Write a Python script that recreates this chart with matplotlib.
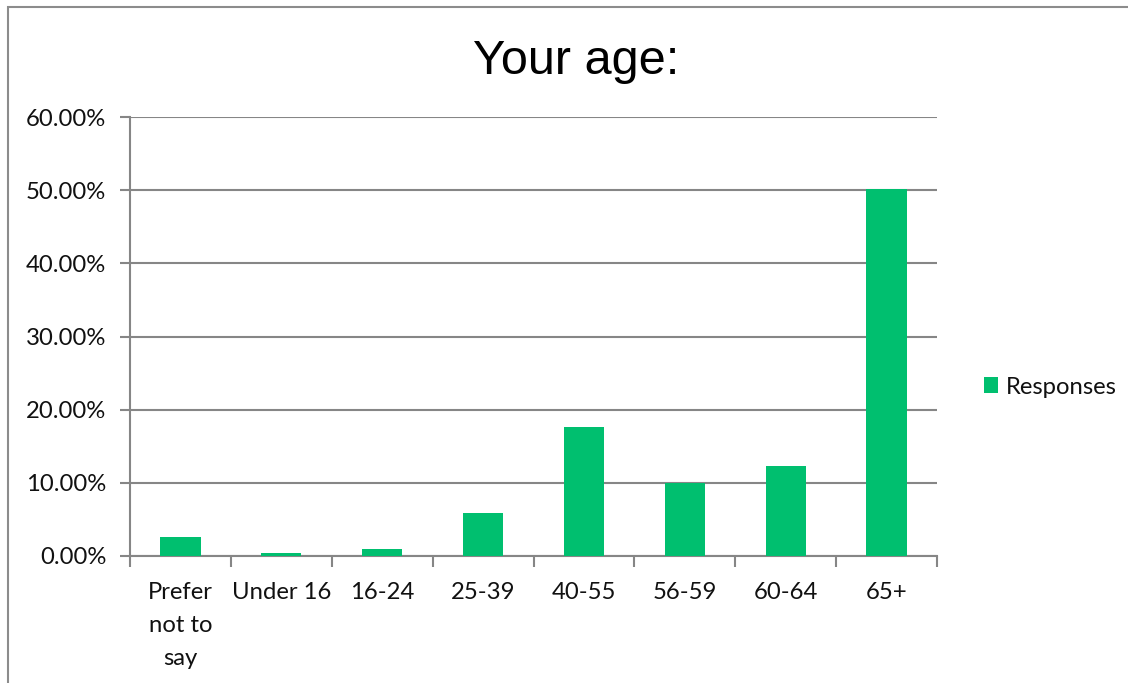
import matplotlib
matplotlib.use("Agg")
import matplotlib.pyplot as plt
from matplotlib.patches import Rectangle, Patch
from matplotlib.ticker import FuncFormatter, FixedLocator

categories = ["Prefer\nnot to\nsay", "Under 16", "16-24", "25-39", "40-55", "56-59", "60-64", "65+"]
values = [2.6, 0.4, 1.0, 5.9, 17.6, 10.0, 12.3, 50.1]
yticks = [0, 10, 20, 30, 40, 50, 60]
series_name = "Responses"
title = "Your age:"

W, H = 1128, 683
fig = plt.figure(figsize=(W / 100, H / 100), dpi=100)
fig.patch.set_facecolor("white")

# outer frame (cropped chart border)
fig.add_artist(Rectangle((8 / W, -0.1), 1.2, 1 - 7 / H + 0.1, transform=fig.transFigure,
                         fill=False, edgecolor="#8c8c8c", linewidth=1.5))

ax = fig.add_axes([130 / W, 1 - 556 / H, (937 - 130) / W, (556 - 117) / H])
x = list(range(len(categories)))
ax.bar(x, values, width=0.4, color="#00BF6F", zorder=3, label=series_name)
ax.set_xlim(-0.5, len(categories) - 0.5)
ax.set_ylim(0, 60)
ax.yaxis.set_major_locator(FixedLocator(yticks))
ax.yaxis.set_major_formatter(FuncFormatter(lambda v, p: f"{v:.2f}%"))
ax.grid(axis="y", color="#868686", linewidth=1.5, zorder=0)
ax.set_axisbelow(True)

for s in ["top", "right"]:
    ax.spines[s].set_visible(False)
for s in ["left", "bottom"]:
    ax.spines[s].set_color("#868686")
    ax.spines[s].set_linewidth(1.5)

FS = 17.2
ax.set_xticks([i + 0.5 for i in range(-1, len(categories))], minor=False)
ax.set_xticklabels([])
ax.set_xticks(x, minor=True)
ax.set_xticklabels(categories, minor=True, fontfamily="Lato", fontsize=FS,
                   linespacing=1.7, color="#111111")
ax.tick_params(axis="x", which="major", length=8, width=1.5, color="#868686", direction="out")
ax.tick_params(axis="x", which="minor", length=0, pad=19)
ax.tick_params(axis="y", length=7, width=1.5, color="#868686", pad=10, labelsize=FS)
for lbl in ax.get_yticklabels():
    lbl.set_fontfamily("Lato")
    lbl.set_color("#111111")
for lbl in ax.get_xticklabels(minor=True):
    lbl.set_verticalalignment("top")

fig.text((473 + 680) / 2 / W, 1 - 61 / H, title, ha="center", va="center",
         fontfamily="Liberation Sans", fontsize=35, color="#000000")

leg = fig.legend(handles=[Patch(facecolor="#00BF6F", label=series_name)],
                 loc="center left", bbox_to_anchor=(962 / W, 1 - 387 / H),
                 frameon=False, prop={"family": "Lato", "size": FS},
                 handlelength=0.6, handleheight=0.6, handletextpad=0.35)
for t in leg.get_texts():
    t.set_color("#111111")

fig.savefig("out.png", dpi=100, facecolor="white")
